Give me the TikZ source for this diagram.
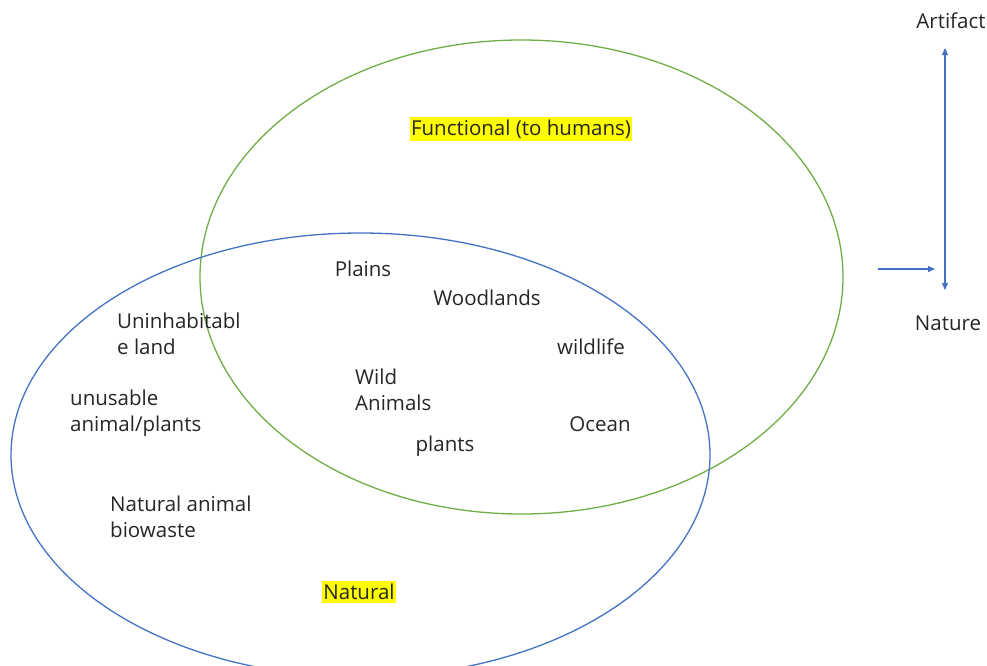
\documentclass[tikz,border=0pt]{standalone}
\usepackage{fontspec}
\setmainfont{Open Sans}
\usetikzlibrary{arrows.meta}
\definecolor{setgreen}{HTML}{70AD47}
\definecolor{setblue}{HTML}{4472C4}
\definecolor{hilite}{HTML}{FFFF00}
\begin{document}
\begin{tikzpicture}[x=1pt,y=-1pt,
  every node/.style={font=\fontsize{20.5}{25.5}\selectfont, text=black!85, inner sep=1pt},
  setline/.style={line width=1.3pt},
  label/.style={align=left, anchor=west},
  tag/.style={fill=hilite, inner xsep=1pt, inner ysep=3pt},
  axis/.style={setblue, line width=1.2pt, -{Triangle[length=7pt,width=6pt]}}]
\useasboundingbox (0,0) rectangle (987,665);
% the two overlapping sets
\draw[setline, setgreen] (521.5,277) ellipse [x radius=321.5, y radius=237];
\draw[setline, setblue] (360.5,455) ellipse [x radius=349.5, y radius=222];
% set titles
\node[tag] (functional) at (521,129) {Functional (to humans)};
\node[tag] (natural) at (359,592) {Natural};
% items
\node (plains) at (363,269) {Plains};
\node (woodlands) at (487,298) {Woodlands};
\node (wildlife) at (591,347) {wildlife};
\node (ocean) at (600,424) {Ocean};
\node (plants) at (445,446) {plants};
\node[label] (wild) at (354,390) {Wild\\Animals};
\node[label] (uninhab) at (116,334) {Uninhabitabl\\e land};
\node[label] (unusable) at (69,413) {unusable\\animal/plants};
\node[label] (biowaste) at (109,517) {Natural animal\\biowaste};
% scale from nature to artifact
\node (artifact) at (951,21) {Artifact};
\node (nature) at (948,323) {Nature};
\coordinate (top) at (945,48);
\coordinate (bottom) at (945,290);
\draw[axis, {Triangle[length=7pt,width=6pt]}-{Triangle[length=7pt,width=6pt]}] (bottom) -- (top);
\coordinate (pointer) at (878,269);
\coordinate (pointerend) at (935,269);
\draw[axis] (pointer) -- (pointerend);
\end{tikzpicture}
\end{document}
